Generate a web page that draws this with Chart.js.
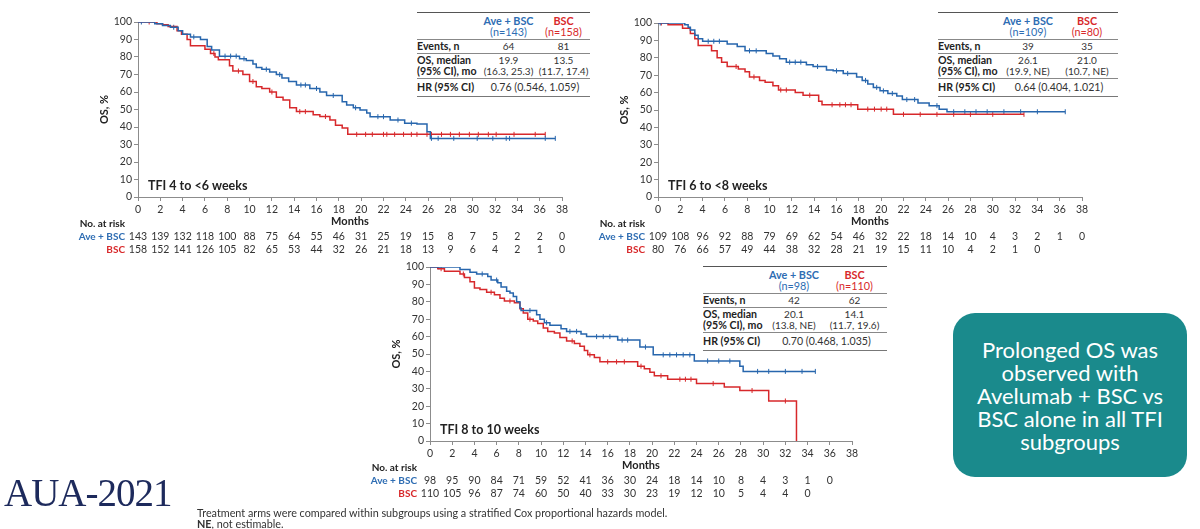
<!DOCTYPE html>
<html>
<head>
<meta charset="utf-8">
<script src="https://cdn.jsdelivr.net/npm/chart.js@4.4.1/dist/chart.umd.min.js"></script>
<style>
body{margin:0;background:#fff;width:1200px;height:529px;overflow:hidden;position:relative;font-family:Lato,"Open Sans",sans-serif;}
canvas{position:absolute;left:0;top:0;}
.tbl{position:absolute;border-collapse:collapse;table-layout:fixed;font-size:10px;color:#333;border-top:1.5px solid #555;border-bottom:1px solid #777;background:#fff;}
.tbl td{padding:0;text-align:center;line-height:11px;white-space:nowrap;}
.tbl td.lb{text-align:left;font-weight:bold;color:#222;font-size:10.6px;}
.tbl tr.hd td{height:26px;border-bottom:1px solid #888;font-size:10.8px;}
.tbl tr.ev td{height:13px;border-bottom:1px solid #888;}
.tbl tr.os td{height:24px;border-bottom:1px solid #888;}
.tbl tr.hr td{height:17px;font-size:10.6px;}
.cb{color:#2e6db3;}
.cr{color:#d8292b;}
#logo{position:absolute;left:4px;top:470px;font-family:"Liberation Serif",serif;font-size:39px;color:#1d2a5c;letter-spacing:-1px;}
#foot{position:absolute;left:197px;top:507px;font-size:10.8px;color:#333;line-height:11px;}
#box{position:absolute;left:953px;top:313px;width:234px;height:164px;background:#1a8a8c;border-radius:22px;color:#fff;font-size:22px;line-height:23px;text-align:center;display:flex;align-items:center;justify-content:center;}
</style>
</head>
<body>
<canvas id="c1" width="1200" height="529"></canvas>
<canvas id="c2" width="1200" height="529"></canvas>
<canvas id="c3" width="1200" height="529"></canvas>

<table class="tbl" style="left:417px;top:12px;width:173px">
<colgroup><col style="width:63px"><col style="width:57px"><col style="width:53px"></colgroup>
<tr class="hd"><td></td><td class="cb"><b>Ave + BSC</b><br>(n=143)</td><td class="cr"><b>BSC</b><br>(n=158)</td></tr>
<tr class="ev"><td class="lb">Events, n</td><td>64</td><td>81</td></tr>
<tr class="os"><td class="lb">OS, median<br>(95% CI), mo</td><td>19.9<br>(16.3, 25.3)</td><td>13.5<br>(11.7, 17.4)</td></tr>
<tr class="hr"><td class="lb">HR (95% CI)</td><td colspan="2">0.76 (0.546, 1.059)</td></tr>
</table>

<table class="tbl" style="left:938px;top:12px;width:180px">
<colgroup><col style="width:62px"><col style="width:56px"><col style="width:62px"></colgroup>
<tr class="hd"><td></td><td class="cb"><b>Ave + BSC</b><br>(n=109)</td><td class="cr"><b>BSC</b><br>(n=80)</td></tr>
<tr class="ev"><td class="lb">Events, n</td><td>39</td><td>35</td></tr>
<tr class="os"><td class="lb">OS, median<br>(95% CI), mo</td><td>26.1<br>(19.9, NE)</td><td>21.0<br>(10.7, NE)</td></tr>
<tr class="hr"><td class="lb">HR (95% CI)</td><td colspan="2">0.64 (0.404, 1.021)</td></tr>
</table>

<table class="tbl" style="left:703px;top:266px;width:184px">
<colgroup><col style="width:63px"><col style="width:56px"><col style="width:65px"></colgroup>
<tr class="hd"><td></td><td class="cb"><b>Ave + BSC</b><br>(n=98)</td><td class="cr"><b>BSC</b><br>(n=110)</td></tr>
<tr class="ev"><td class="lb">Events, n</td><td>42</td><td>62</td></tr>
<tr class="os"><td class="lb">OS, median<br>(95% CI), mo</td><td>20.1<br>(13.8, NE)</td><td>14.1<br>(11.7, 19.6)</td></tr>
<tr class="hr"><td class="lb">HR (95% CI)</td><td colspan="2">0.70 (0.468, 1.035)</td></tr>
</table>

<div id="logo">AUA-2021</div>
<div id="foot">Treatment arms were compared within subgroups using a stratified Cox proportional hazards model.<br><b>NE</b>, not estimable.</div>
<div id="box"><div>Prolonged OS was<br>observed with<br>Avelumab + BSC vs<br>BSC alone in all TFI<br>subgroups</div></div>

<script>
// months on the x axis, every 2
var months = [0,2,4,6,8,10,12,14,16,18,20,22,24,26,28,30,32,34,36,38];

// TFI 4 to <6 weeks
var p1AveT = [0,1.5,2.2,2.9,3.6,4.0,4.7,5.6,6.2,6.6,7.3,9.1,9.7,10.3,10.6,11.1,11.8,12.4,12.9,13.5,14.2,15.4,16.3,16.9,18.3,18.7,19.3,19.9,20.5,20.8,22.6,23.9,25.0,25.9,26.2,37.4];
var p1AveS = [100,99,98,97,95,93,91.5,90,86,84,80.5,79,78,76,74,73,71.5,70,68,66,64,62,60,58,54.5,52.6,51,49.7,48,45.9,44,42.2,41.7,37.3,33.5,33.5];
var p1BscT = [0,1.7,2.2,2.7,3.5,3.9,4.4,4.7,6.0,6.5,6.9,7.2,8.2,8.5,9.4,10.0,10.6,11.1,11.8,12.4,13.0,13.6,14.2,15.7,16.3,17.2,17.7,18.3,18.8,36.5];
var p1BscS = [100,99,98.5,97.5,95,93,90,86.5,84.5,82,80,78.5,75,72,70,66,63,62,60,57,55.5,51,48.8,47,46,44,41,39.5,35.8,35.8];
var p1AveCens = [0.3,3.2,5.0,7.8,8.3,8.8,9.5,11.5,12.7,14.6,15.0,16.0,17.5,19.5,21.5,22.0,23.3,24.5,26.3,26.9,28.3,30.4,31.8,33.0,33.3,36.5,37.4];
var p1BscCens = [1.0,6.8,9.0,10.3,12.0,14.5,15.0,16.8,19.6,20.4,21.0,22.0,22.3,23.0,23.8,24.5,25.0,25.9,26.3,27.2,28.0,28.8,29.7,30.5,31.4,32.1,33.7,35.6,36.5];
var p1RiskAve = [143,139,132,118,100,88,75,64,55,46,31,25,19,15,8,7,5,2,2,0];
var p1RiskBsc = [158,152,141,126,105,82,65,53,44,32,26,21,18,13,9,6,4,2,1,0];

// TFI 6 to <8 weeks
var p2AveT = [0,2.4,2.7,2.9,3.3,3.6,4.0,6.2,7.1,7.8,9.7,10.3,10.9,11.5,13.3,13.9,15.1,15.7,16.6,17.8,18.3,18.8,19.3,19.9,20.6,21.4,21.9,23.3,24.3,25.2,25.9,36.5];
var p2AveS = [100,99,97.5,96,93,91,89.5,88,86.5,84,82.5,81,79.5,77.5,76,75,73,72.5,71,69,67,65,63,61,59.5,58,56,54,52.5,50.5,49,49];
var p2BscT = [0,0.9,2.2,2.9,3.3,3.6,4.8,5.3,5.7,6.2,7.2,7.8,8.2,9.1,9.6,10.3,10.8,12.3,13.0,14.4,14.7,17.9,21.1,32.8];
var p2BscS = [100,99,97,94,91,87,84,80,77.5,75,73.5,72,69,67,66,64,61.5,60,58.5,55,53,50.5,47.5,47.5];
var p2AveCens = [0.2,4.5,5.0,5.5,8.2,8.8,11.8,12.3,12.8,14.3,16.0,17.0,18.6,19.6,20.2,21.0,22.3,23.0,25.0,26.5,27.5,28.5,29.5,31.0,32.5,34.0,36.5];
var p2BscCens = [0.3,7.0,8.6,11.0,11.5,13.6,15.6,16.3,16.8,17.3,18.8,19.4,20.0,20.5,22.0,23.5,25.0,26.5,28.0,30.0,32.8];
var p2RiskAve = [109,108,96,92,88,79,69,62,54,46,32,22,18,14,10,4,3,2,1,0];
var p2RiskBsc = [80,76,66,57,49,44,38,32,28,21,19,15,11,10,4,2,1,0];

// TFI 8 to 10 weeks
var p3AveT = [0,2.7,3.6,4.2,5.2,5.5,6.1,6.4,6.9,7.2,7.5,7.8,8.1,8.2,9.6,9.9,10.3,10.8,11.8,12.3,13.6,14.1,16.9,18.9,20.1,23.8,27.9,28.2,34.7];
var p3AveS = [100,98.5,97,96,94.5,92.5,91,88.5,86,85,83,80,76.5,75,72.5,70,68,66.5,64.5,63,61.5,60,58,54,49.5,46,43,40,40];
var p3BscT = [0,0.7,1.3,2.7,3.1,3.6,4.0,4.5,5.1,5.8,6.3,6.7,7.6,8.1,8.4,8.8,9.3,9.7,10.2,10.6,11.2,11.7,12.3,13.0,13.5,13.9,14.2,14.8,15.3,18.7,19.3,19.8,20.2,21.4,24.0,26.5,27.9,30.5,33.0];
var p3BscS = [100,99,97.5,96,94,91.5,88,87,85.5,84,82,80.5,79.5,76,73.5,70,69,67.5,65,63,62,59.5,57.5,56,54.5,52,49.5,48,45.5,43,41.5,39.5,37.5,35.5,33,31,29,23,0];
var p3AveCens = [0.8,4.7,6.0,9.0,10.5,12.6,13.2,15.0,15.6,16.2,17.3,17.8,19.4,21.0,21.6,22.2,22.8,23.4,25.0,26.0,27.0,29.5,30.5,32.0,33.5,34.7];
var p3BscCens = [1.0,3.0,5.5,7.2,9.0,12.8,14.4,16.0,16.8,17.5,19.0,20.8,22.5,23.0,23.5,25.5,29.0,32.0];
var p3RiskAve = [98,95,90,84,71,59,52,41,36,30,24,18,14,10,8,4,3,1,0];
var p3RiskBsc = [110,105,96,87,74,60,50,40,33,30,23,19,12,10,5,4,4,0];

var BLUE = '#2766ad';
var RED = '#d7282b';
var FONT = 'Lato, "Open Sans", sans-serif';

function pts(T, S){
	var out = [];
	for(var i = 0; i < T.length; i++){
		out.push({x: T[i], y: S[i]});
	}
	return out;
}

function censPts(T, S, C){
	var out = [];
	for(var i = 0; i < C.length; i++){
		var s = S[0];
		for(var j = 0; j < T.length; j++){
			if(T[j] <= C[i]) s = S[j];
		}
		out.push({x: C[i], y: s});
	}
	return out;
}

var textPlugin = {
	id: 'kmText',
	afterDraw: function(chart){
		var o = chart.options.plugins.kmText;
		var ctx = chart.ctx;
		var a = chart.chartArea;
		var xs = chart.scales.x;
		ctx.save();
		ctx.fillStyle = '#222';
		ctx.textBaseline = 'middle';
		// y title
		ctx.save();
		ctx.translate(o.yTitleX, (a.top + a.bottom) / 2);
		ctx.rotate(-Math.PI / 2);
		ctx.textAlign = 'center';
		ctx.font = 'bold 11px ' + FONT;
		ctx.fillText('OS, %', 0, 0);
		ctx.restore();
		// subgroup label
		ctx.textAlign = 'left';
		ctx.font = 'bold 12.5px ' + FONT;
		ctx.fillText(o.tfi, a.left + 10, a.bottom - 11);
		// x title
		ctx.textAlign = 'center';
		ctx.font = 'bold 11px ' + FONT;
		ctx.fillText('Months', (a.left + a.right) / 2, a.bottom + 24);
		// number at risk
		var lx = a.left - 13;
		ctx.textAlign = 'right';
		ctx.font = 'bold 10px ' + FONT;
		ctx.fillStyle = '#222';
		ctx.fillText('No. at risk', lx, a.bottom + 27);
		ctx.fillStyle = '#2e6db3';
		ctx.fillText('Ave + BSC', lx, a.bottom + 40);
		ctx.fillStyle = '#d8292b';
		ctx.fillText('BSC', lx, a.bottom + 53);
		ctx.textAlign = 'center';
		ctx.font = '10.5px ' + FONT;
		ctx.fillStyle = '#333';
		for(var i = 0; i < o.riskAve.length; i++){
			ctx.fillText(String(o.riskAve[i]), xs.getPixelForValue(months[i]), a.bottom + 40);
		}
		for(var i = 0; i < o.riskBsc.length; i++){
			ctx.fillText(String(o.riskBsc[i]), xs.getPixelForValue(months[i]), a.bottom + 53);
		}
		ctx.restore();
	}
};

function makePanel(id, L, T, R, B, p){
	var axisGrid = {display: true, drawOnChartArea: false, drawTicks: true, tickLength: 4, color: '#8c8c8c', lineWidth: 1};
	new Chart(document.getElementById(id), {
		type: 'scatter',
		data: {
			datasets: [
				{data: pts(p.aveT, p.aveS), showLine: true, stepped: 'before', borderColor: BLUE, borderWidth: 1.5, pointRadius: 0, fill: false},
				{data: pts(p.bscT, p.bscS), showLine: true, stepped: 'before', borderColor: RED, borderWidth: 1.5, pointRadius: 0, fill: false},
				{data: censPts(p.aveT, p.aveS, p.aveC), showLine: false, pointStyle: 'line', rotation: 90, pointRadius: 2.5, borderColor: BLUE, borderWidth: 1},
				{data: censPts(p.bscT, p.bscS, p.bscC), showLine: false, pointStyle: 'line', rotation: 90, pointRadius: 2.5, borderColor: RED, borderWidth: 1}
			]
		},
		options: {
			responsive: false,
			animation: false,
			layout: {padding: {left: L - 40, top: T, right: 1200 - R, bottom: 529 - B - 20}},
			plugins: {
				legend: {display: false},
				tooltip: {enabled: false},
				kmText: {tfi: p.tfi, yTitleX: L - 34, riskAve: p.riskAve, riskBsc: p.riskBsc}
			},
			scales: {
				x: {
					type: 'linear', min: 0, max: 38,
					afterFit: function(s){ s.height = 20; },
					grid: axisGrid,
					border: {display: true, color: '#8c8c8c', width: 1},
					ticks: {stepSize: 2, autoSkip: false, maxRotation: 0, padding: 2, color: '#333', font: {family: FONT, size: 10.5}}
				},
				y: {
					min: 0, max: 100,
					afterFit: function(s){ s.width = 40; },
					grid: axisGrid,
					border: {display: true, color: '#8c8c8c', width: 1},
					ticks: {stepSize: 10, padding: 2, color: '#333', font: {family: FONT, size: 10.5}}
				}
			}
		},
		plugins: [textPlugin]
	});
}

makePanel('c1', 138, 22, 562, 197, {
	tfi: 'TFI 4 to <6 weeks',
	aveT: p1AveT, aveS: p1AveS, bscT: p1BscT, bscS: p1BscS,
	aveC: p1AveCens, bscC: p1BscCens, riskAve: p1RiskAve, riskBsc: p1RiskBsc
});
makePanel('c2', 658, 23, 1082, 197, {
	tfi: 'TFI 6 to <8 weeks',
	aveT: p2AveT, aveS: p2AveS, bscT: p2BscT, bscS: p2BscS,
	aveC: p2AveCens, bscC: p2BscCens, riskAve: p2RiskAve, riskBsc: p2RiskBsc
});
makePanel('c3', 430, 267, 852, 441, {
	tfi: 'TFI 8 to 10 weeks',
	aveT: p3AveT, aveS: p3AveS, bscT: p3BscT, bscS: p3BscS,
	aveC: p3AveCens, bscC: p3BscCens, riskAve: p3RiskAve, riskBsc: p3RiskBsc
});
</script>
</body>
</html>
